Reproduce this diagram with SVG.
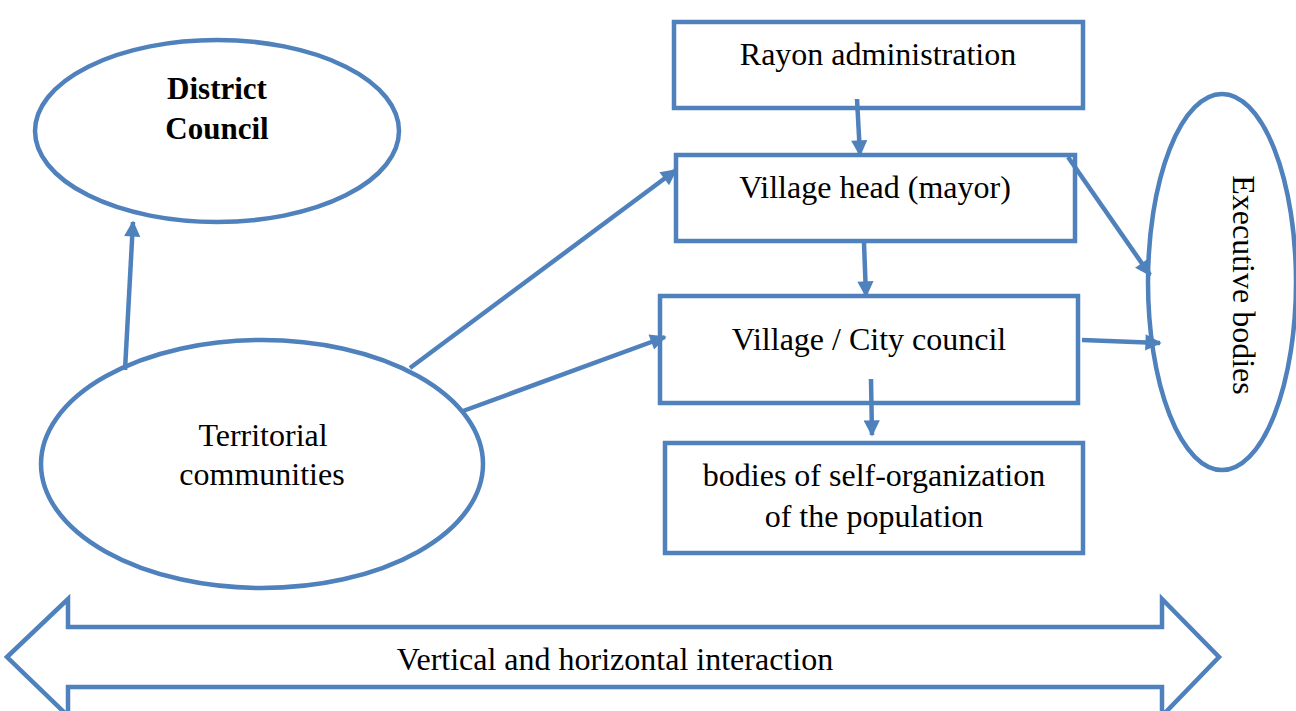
<svg xmlns="http://www.w3.org/2000/svg" width="1296" height="711" viewBox="0 0 1296 711">
<style>
.shape{fill:#fff;stroke:#4F81BD;stroke-width:4.5}
.lbl{font-family:"Liberation Serif","Times New Roman",serif;font-size:32px;fill:#000;text-anchor:middle}
.bold{font-weight:bold;font-size:31px}
.conn{stroke:#4F81BD;stroke-width:4.5;fill:none;marker-end:url(#ah)}
</style>
<defs>
<marker id="ah" viewBox="0 0 10 10" refX="9" refY="5" markerWidth="4" markerHeight="3.6" orient="auto" markerUnits="strokeWidth">
<path d="M0,0 L10,5 L0,10 z" fill="#4F81BD"/>
</marker>
</defs>
<rect width="1296" height="711" fill="#fff"/>
<g id="district-council">
<ellipse class="shape" cx="217" cy="131" rx="182" ry="91"/>
<text class="lbl bold" x="217" y="99">District</text>
<text class="lbl bold" x="217" y="139">Council</text>
</g>
<g id="territorial-communities">
<ellipse class="shape" cx="262" cy="464" rx="221" ry="124"/>
<text class="lbl" x="263" y="446">Territorial</text>
<text class="lbl" x="262" y="485">communities</text>
</g>
<g id="rayon-administration">
<rect class="shape" x="674" y="22" width="409" height="86"/>
<text class="lbl" x="878" y="65">Rayon administration</text>
</g>
<g id="village-head">
<rect class="shape" x="676" y="155" width="399" height="86"/>
<text class="lbl" x="875" y="198">Village head (mayor)</text>
</g>
<g id="village-city-council">
<rect class="shape" x="660" y="296" width="418" height="107"/>
<text class="lbl" x="869" y="350">Village / City council</text>
</g>
<g id="self-organization">
<rect class="shape" x="665" y="443" width="418" height="110"/>
<text class="lbl" x="874" y="486">bodies of self-organization</text>
<text class="lbl" x="874" y="527">of the population</text>
</g>
<g id="executive-bodies">
<ellipse class="shape" cx="1222" cy="282" rx="74" ry="188"/>
<text class="lbl" transform="translate(1233,285) rotate(90)">Executive bodies</text>
</g>
<g id="interaction">
<path class="shape" d="M7,657 L68,599 L68,627 L1162,627 L1162,599 L1219,657 L1162,716 L1162,687 L68,687 L68,716 Z"/>
<text class="lbl" x="615" y="670">Vertical and horizontal interaction</text>
</g>
<g id="connectors">
<line class="conn" x1="857" y1="99" x2="860" y2="155"/>
<line class="conn" x1="864" y1="243" x2="866" y2="296"/>
<line class="conn" x1="871" y1="379" x2="872" y2="435"/>
<line class="conn" x1="125" y1="370" x2="133" y2="222"/>
<line class="conn" x1="410" y1="368" x2="676" y2="170"/>
<line class="conn" x1="463" y1="411" x2="665" y2="337"/>
<line class="conn" x1="1068" y1="157" x2="1150" y2="275"/>
<line class="conn" x1="1082" y1="340" x2="1160" y2="343"/>
</g>
</svg>
